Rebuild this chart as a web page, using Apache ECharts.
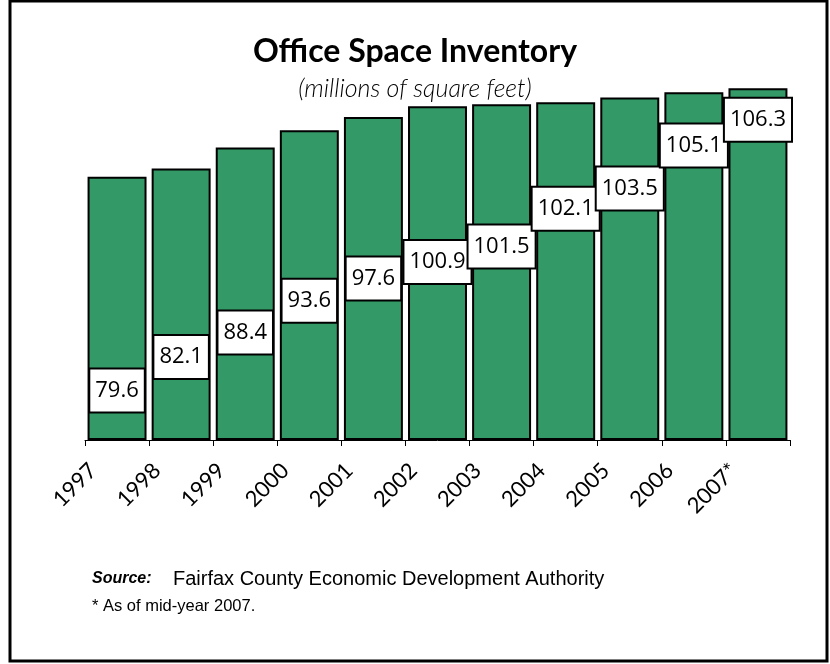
<!DOCTYPE html>
<html>
<head>
<meta charset="utf-8">
<script src="https://cdn.jsdelivr.net/npm/echarts@6/dist/echarts.min.js"></script>
<style>
html,body{margin:0;padding:0;background:#fff;}
#chart{width:830px;height:664px;}
</style>
</head>
<body>
<div id="chart"></div>
<script>
// ---- data ----
const categories = ['1997', '1998', '1999', '2000', '2001', '2002', '2003', '2004', '2005', '2006', '2007*'];
const inventory = [79.6, 82.1, 88.4, 93.6, 97.6, 100.9, 101.5, 102.1, 103.5, 105.1, 106.3];
// value level (millions sq ft) at which each data label box is centred in the original
const labelLevels = [15.0, 25.1, 32.5, 42.1, 48.8, 53.8, 58.5, 69.9, 76.0, 89.0, 96.8];

const chart = echarts.init(document.getElementById('chart'), null, {renderer: 'canvas'});

const option = {
  backgroundColor: '#ffffff',
  animation: false,
  title: {
    text: 'Office Space Inventory',
    subtext: '(millions of square feet)',
    left: 'center',
    top: 31,
    itemGap: 8,
    textStyle: {fontFamily: 'Lato', fontWeight: 'bold', fontSize: 32, color: '#000'},
    subtextStyle: {fontFamily: 'Lato', fontStyle: 'italic', fontWeight: 300, fontSize: 25, color: '#000'}
  },
  grid: {left: 85, right: 40, top: 43, bottom: 224, containLabel: false},
  xAxis: {
    type: 'category',
    data: categories,
    axisLine: {lineStyle: {color: '#000', width: 1}},
    axisTick: {show: true, length: 6, alignWithLabel: false, lineStyle: {color: '#000'}},
    axisLabel: {
      rotate: 45,
      margin: 3,
      padding: [0, 34, 0, 0],
      fontFamily: 'Lato',
      fontWeight: 'normal',
      fontSize: 22,
      color: '#000'
    }
  },
  yAxis: {
    type: 'value',
    min: 0,
    max: 120,
    show: false,
    splitLine: {show: false}
  },
  series: [
    {
      type: 'bar',
      data: inventory,
      barCategoryGap: '8%',
      itemStyle: {color: '#339966', borderColor: '#000', borderWidth: 2},
      z: 2
    },
    {
      type: 'scatter',
      data: labelLevels,
      symbolSize: 0,
      itemStyle: {color: 'transparent', opacity: 1},
      z: 5,
      label: {
        show: true,
        position: 'inside',
        formatter: p => inventory[p.dataIndex].toFixed(1),
        fontFamily: 'Open Sans',
        fontWeight: 'normal',
        fontSize: 22,
        color: '#000',
        opacity: 1,
        backgroundColor: '#fff',
        borderColor: '#000',
        borderWidth: 2,
        padding: [9, 5, 7, 5],
        lineHeight: 26
      }
    }
  ],
  graphic: [
    {
      type: 'rect',
      shape: {x: 10, y: 1, width: 817, height: 660},
      style: {fill: 'none', stroke: '#000', lineWidth: 3},
      silent: true
    },
    {
      type: 'text',
      left: 92,
      top: 571,
      style: {text: 'Source:', fontFamily: 'Liberation Sans', fontWeight: 'bold', fontStyle: 'italic', fontSize: 16, fill: '#000'}
    },
    {
      type: 'text',
      left: 173,
      top: 569,
      style: {text: 'Fairfax County Economic Development Authority', fontFamily: 'Liberation Sans', fontSize: 20, fill: '#000'}
    },
    {
      type: 'text',
      left: 92,
      top: 598,
      style: {text: '* As of mid-year 2007.', fontFamily: 'Liberation Sans', fontSize: 16.5, fill: '#000'}
    }
  ]
};
chart.setOption(option);
</script>
</body>
</html>
